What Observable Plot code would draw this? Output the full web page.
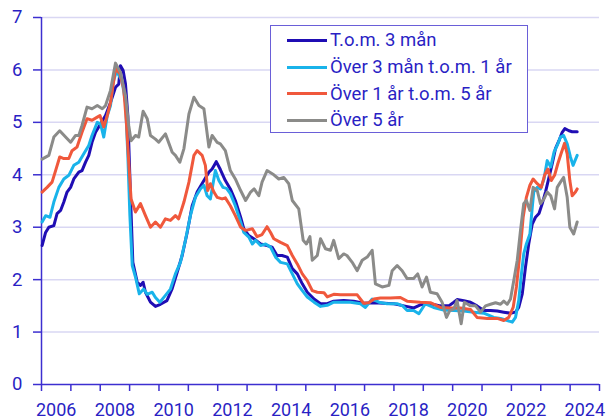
<!DOCTYPE html>
<html><head><meta charset="utf-8">
<script src="https://cdn.jsdelivr.net/npm/d3@7"></script>
<script src="https://cdn.jsdelivr.net/npm/@observablehq/plot@0.6"></script>
<style>
body{margin:0;background:#fff;}
#wrap{position:relative;width:609px;height:420px;font-family:Roboto,sans-serif;}
#legend{position:absolute;left:270px;top:25px;width:258px;height:108px;border:1.5px solid #6a5fd8;background:#fff;box-sizing:border-box;padding-top:1px;}
.row{display:flex;align-items:center;height:26.7px;color:#2a1fc4;font-size:18.5px;white-space:nowrap;}
.sw{width:40px;height:3px;margin-left:16px;margin-right:3px;}
</style></head>
<body><div id="wrap"><div id="chart"></div><div id="legend"></div></div>
<script>
const seriesNames = ["T.o.m. 3 mån", "Över 3 mån t.o.m. 1 år", "Över 1 år t.o.m. 5 år", "Över 5 år"];
const seriesColors = ["#1f0db4", "#19b3ea", "#f0583c", "#8b8b89"];
const yTicks = [0,1,2,3,4,5,6,7];
const yearTicks = [2006,2007,2008,2009,2010,2011,2012,2013,2014,2015,2016,2017,2018,2019,2020,2021,2022,2023,2024,2025];
const yearLabels = [2006,2008,2010,2012,2014,2016,2018,2020,2022,2024];

const tom3man = [[2006.02,2.65],[2006.14,2.90],[2006.25,3.00],[2006.42,3.03],[2006.53,3.26],[2006.65,3.32],[2006.76,3.48],[2006.87,3.67],[2006.99,3.76],[2007.10,3.92],[2007.27,4.05],[2007.38,4.08],[2007.50,4.24],[2007.61,4.37],[2007.72,4.62],[2007.84,4.81],[2008.01,4.97],[2008.18,5.13],[2008.35,5.38],[2008.52,5.67],[2008.63,5.73],[2008.69,6.08],[2008.78,5.99],[2008.86,5.73],[2008.94,5.13],[2009.03,3.60],[2009.11,2.33],[2009.26,1.95],[2009.37,1.89],[2009.46,1.95],[2009.54,1.76],[2009.71,1.57],[2009.88,1.49],[2010.05,1.53],[2010.27,1.60],[2010.45,1.83],[2010.62,2.14],[2010.79,2.46],[2010.96,2.90],[2011.13,3.41],[2011.30,3.67],[2011.53,3.89],[2011.70,4.05],[2011.81,4.11],[2011.95,4.25],[2012.09,4.10],[2012.26,3.89],[2012.43,3.73],[2012.60,3.51],[2012.78,3.19],[2012.89,2.97],[2013.06,2.84],[2013.23,2.78],[2013.46,2.68],[2013.68,2.65],[2013.85,2.62],[2014.02,2.46],[2014.19,2.46],[2014.37,2.43],[2014.54,2.21],[2014.71,2.11],[2014.88,1.92],[2015.05,1.76],[2015.28,1.63],[2015.50,1.54],[2015.73,1.54],[2015.95,1.59],[2016.29,1.60],[2016.63,1.59],[2016.97,1.55],[2017.32,1.56],[2017.66,1.55],[2018.00,1.54],[2018.34,1.50],[2018.68,1.46],[2018.90,1.52],[2019.24,1.54],[2019.58,1.50],[2019.87,1.50],[2020.04,1.57],[2020.15,1.62],[2020.38,1.60],[2020.61,1.57],[2020.83,1.50],[2021.06,1.41],[2021.29,1.41],[2021.52,1.40],[2021.74,1.38],[2021.97,1.36],[2022.14,1.38],[2022.25,1.47],[2022.37,1.73],[2022.48,2.24],[2022.59,2.68],[2022.71,3.06],[2022.82,3.19],[2022.94,3.26],[2023.05,3.45],[2023.16,3.67],[2023.28,3.95],[2023.39,4.21],[2023.50,4.50],[2023.62,4.65],[2023.73,4.81],[2023.82,4.88],[2023.96,4.84],[2024.07,4.82],[2024.24,4.82]];

const over3man1ar = [[2006.02,3.10],[2006.14,3.22],[2006.29,3.19],[2006.42,3.48],[2006.59,3.76],[2006.76,3.92],[2006.93,3.99],[2007.10,4.18],[2007.27,4.24],[2007.44,4.40],[2007.61,4.56],[2007.72,4.75],[2007.90,5.00],[2008.01,4.97],[2008.12,4.72],[2008.24,5.13],[2008.35,5.32],[2008.44,5.77],[2008.56,5.99],[2008.63,5.90],[2008.74,5.80],[2008.86,5.38],[2008.94,4.37],[2009.01,3.22],[2009.09,2.27],[2009.20,2.05],[2009.33,1.73],[2009.48,1.82],[2009.60,1.72],[2009.77,1.76],[2009.88,1.66],[2010.03,1.57],[2010.22,1.70],[2010.39,1.82],[2010.56,2.11],[2010.73,2.33],[2010.90,2.75],[2011.07,3.22],[2011.24,3.57],[2011.41,3.73],[2011.53,3.80],[2011.64,3.60],[2011.75,3.54],[2011.92,4.08],[2012.04,3.89],[2012.18,3.76],[2012.30,3.74],[2012.43,3.64],[2012.60,3.41],[2012.78,3.10],[2012.89,2.90],[2013.06,2.81],[2013.18,2.68],[2013.29,2.75],[2013.46,2.65],[2013.63,2.68],[2013.80,2.62],[2013.97,2.43],[2014.14,2.33],[2014.37,2.30],[2014.54,2.11],[2014.71,1.92],[2014.88,1.79],[2015.05,1.67],[2015.28,1.57],[2015.50,1.49],[2015.73,1.51],[2015.95,1.57],[2016.18,1.57],[2016.52,1.57],[2016.86,1.54],[2017.03,1.47],[2017.26,1.63],[2017.49,1.57],[2017.77,1.54],[2018.11,1.54],[2018.30,1.50],[2018.45,1.41],[2018.67,1.41],[2018.85,1.35],[2019.07,1.54],[2019.35,1.47],[2019.69,1.42],[2020.04,1.41],[2020.38,1.40],[2020.72,1.38],[2021.06,1.36],[2021.40,1.28],[2021.63,1.26],[2021.86,1.22],[2022.03,1.19],[2022.14,1.28],[2022.25,1.60],[2022.33,2.05],[2022.42,2.49],[2022.51,2.68],[2022.63,2.87],[2022.71,3.38],[2022.76,3.67],[2022.88,3.76],[2022.99,3.73],[2023.11,3.92],[2023.22,4.27],[2023.34,4.15],[2023.45,4.43],[2023.56,4.56],[2023.67,4.72],[2023.78,4.75],[2023.90,4.59],[2024.01,4.34],[2024.10,4.18],[2024.24,4.37]];

const over1ar5ar = [[2006.02,3.67],[2006.19,3.76],[2006.36,3.86],[2006.48,4.08],[2006.62,4.34],[2006.76,4.31],[2006.93,4.31],[2007.04,4.46],[2007.21,4.53],[2007.38,4.81],[2007.55,5.07],[2007.72,5.04],[2007.90,5.10],[2007.99,5.13],[2008.12,4.91],[2008.24,5.13],[2008.35,5.38],[2008.52,6.02],[2008.67,5.93],[2008.80,5.64],[2008.89,5.00],[2008.97,4.24],[2009.05,3.54],[2009.20,3.29],[2009.37,3.45],[2009.54,3.22],[2009.71,3.00],[2009.88,3.10],[2010.05,3.00],[2010.22,3.16],[2010.39,3.13],[2010.56,3.22],[2010.67,3.16],[2010.85,3.48],[2011.02,3.86],[2011.19,4.37],[2011.30,4.46],[2011.47,4.37],[2011.58,4.18],[2011.66,3.70],[2011.75,3.83],[2011.87,3.67],[2011.98,3.57],[2012.15,3.54],[2012.26,3.56],[2012.43,3.41],[2012.60,3.22],[2012.78,3.00],[2012.95,2.94],[2013.18,2.97],[2013.34,2.82],[2013.51,2.86],[2013.68,3.01],[2013.80,2.90],[2013.91,2.78],[2014.14,2.71],[2014.37,2.65],[2014.54,2.46],[2014.71,2.30],[2014.88,2.11],[2015.05,1.98],[2015.22,1.79],[2015.39,1.76],[2015.62,1.75],[2015.73,1.67],[2015.95,1.72],[2016.18,1.71],[2016.52,1.71],[2016.75,1.71],[2016.97,1.55],[2017.14,1.56],[2017.32,1.63],[2017.54,1.65],[2017.88,1.65],[2018.22,1.66],[2018.45,1.59],[2018.90,1.57],[2019.24,1.56],[2019.58,1.47],[2019.92,1.46],[2020.27,1.46],[2020.61,1.43],[2020.83,1.28],[2021.18,1.26],[2021.52,1.26],[2021.74,1.22],[2021.91,1.28],[2022.06,1.47],[2022.17,1.86],[2022.29,2.49],[2022.40,3.19],[2022.51,3.57],[2022.63,3.80],[2022.74,3.92],[2022.88,3.83],[2023.02,3.76],[2023.13,3.99],[2023.24,4.11],[2023.36,3.89],[2023.47,3.99],[2023.58,4.21],[2023.69,4.40],[2023.81,4.60],[2023.90,4.40],[2023.99,3.89],[2024.07,3.60],[2024.18,3.67],[2024.24,3.73]];

const over5ar = [[2006.02,4.30],[2006.25,4.37],[2006.42,4.72],[2006.62,4.84],[2006.82,4.72],[2006.99,4.62],[2007.16,4.75],[2007.27,4.75],[2007.38,4.94],[2007.55,5.29],[2007.72,5.26],[2007.90,5.32],[2008.07,5.26],[2008.18,5.32],[2008.35,5.61],[2008.52,6.13],[2008.69,5.95],[2008.86,5.51],[2008.97,4.94],[2009.05,4.65],[2009.20,4.75],[2009.31,4.72],[2009.46,5.21],[2009.60,5.07],[2009.71,4.75],[2009.88,4.68],[2009.99,4.62],[2010.22,4.78],[2010.45,4.43],[2010.56,4.37],[2010.71,4.24],[2010.85,4.50],[2011.02,5.16],[2011.19,5.48],[2011.36,5.32],[2011.53,5.26],[2011.70,4.53],[2011.81,4.75],[2011.98,4.62],[2012.09,4.59],[2012.26,4.46],[2012.43,4.08],[2012.60,3.92],[2012.78,3.70],[2012.95,3.51],[2013.12,3.67],[2013.24,3.73],[2013.40,3.60],[2013.51,3.86],[2013.68,4.08],[2013.91,4.00],[2014.08,3.92],[2014.25,3.95],[2014.42,3.83],[2014.54,3.51],[2014.76,3.35],[2014.91,2.75],[2015.02,2.68],[2015.14,2.82],[2015.22,2.37],[2015.39,2.46],[2015.50,2.78],[2015.67,2.59],[2015.84,2.56],[2015.95,2.75],[2016.12,2.40],[2016.29,2.49],[2016.40,2.46],[2016.58,2.33],[2016.75,2.17],[2016.92,2.37],[2017.09,2.43],[2017.26,2.56],[2017.37,1.92],[2017.60,1.86],[2017.83,1.89],[2017.94,2.17],[2018.11,2.27],[2018.28,2.17],[2018.45,2.02],[2018.67,2.02],[2018.81,2.11],[2018.96,1.86],[2019.11,2.05],[2019.24,1.76],[2019.47,1.73],[2019.64,1.57],[2019.79,1.28],[2019.90,1.41],[2020.04,1.44],[2020.15,1.60],[2020.29,1.16],[2020.40,1.57],[2020.61,1.50],[2020.78,1.50],[2020.95,1.38],[2021.12,1.50],[2021.29,1.53],[2021.46,1.56],[2021.63,1.53],[2021.74,1.59],[2021.86,1.53],[2021.97,1.63],[2022.08,1.98],[2022.20,2.37],[2022.31,2.94],[2022.42,3.45],[2022.51,3.51],[2022.63,3.32],[2022.74,3.76],[2022.88,3.70],[2022.99,3.45],[2023.11,3.54],[2023.22,3.67],[2023.34,3.60],[2023.47,3.35],[2023.56,3.76],[2023.67,3.86],[2023.78,3.95],[2023.90,3.57],[2023.99,3.00],[2024.12,2.87],[2024.24,3.10]];

const seriesData = [tom3man, over3man1ar, over1ar5ar, over5ar];
const axisColor = "#3c2fd0";
const textColor = "#2a1fc4";

const lineMarks = seriesData.map((d, i) =>
  Plot.line(d, {x: p => p[0], y: p => p[1], stroke: seriesColors[i], strokeWidth: 3, strokeLinejoin: "round"}));

const chart = Plot.plot({
  width: 609, height: 420,
  marginLeft: 41, marginRight: 10, marginTop: 17, marginBottom: 36,
  x: {type: "linear", domain: [2006, 2025]},
  y: {domain: [0, 7]},
  style: {fontFamily: "Roboto, sans-serif", fontSize: "18px", color: textColor, background: "white", overflow: "visible"},
  marks: [
    Plot.gridY(yTicks.filter(v => v > 0), {stroke: "#d9d7f3", strokeOpacity: 1, strokeWidth: 1.5}),
    Plot.axisY(yTicks, {tickSize: 8, tickPadding: 11, tickFormat: d => String(d), stroke: axisColor, strokeWidth: 1.5, fill: textColor, label: null, fontSize: 18.5}),
    Plot.axisX(yearTicks, {tickSize: 7, tickFormat: () => "", stroke: axisColor, strokeWidth: 1.5, label: null}),
    Plot.axisX(yearLabels.map(y => y + 0.5), {tickSize: 0, tickPadding: 19, tickFormat: d => String(Math.floor(d)), fill: textColor, label: null, fontSize: 18}),
    Plot.ruleX([2006], {y1: 0, y2: 7, stroke: axisColor, strokeWidth: 1.5}),
    Plot.ruleY([0], {stroke: axisColor, strokeWidth: 1.5}),
    ...lineMarks
  ]
});
document.getElementById("chart").appendChild(chart);

const legend = document.getElementById("legend");
seriesNames.forEach((n, i) => {
  const row = document.createElement("div");
  row.className = "row";
  const sw = document.createElement("span");
  sw.className = "sw";
  sw.style.background = seriesColors[i];
  const t = document.createElement("span");
  t.textContent = n;
  row.appendChild(sw); row.appendChild(t);
  legend.appendChild(row);
});
</script></body></html>
